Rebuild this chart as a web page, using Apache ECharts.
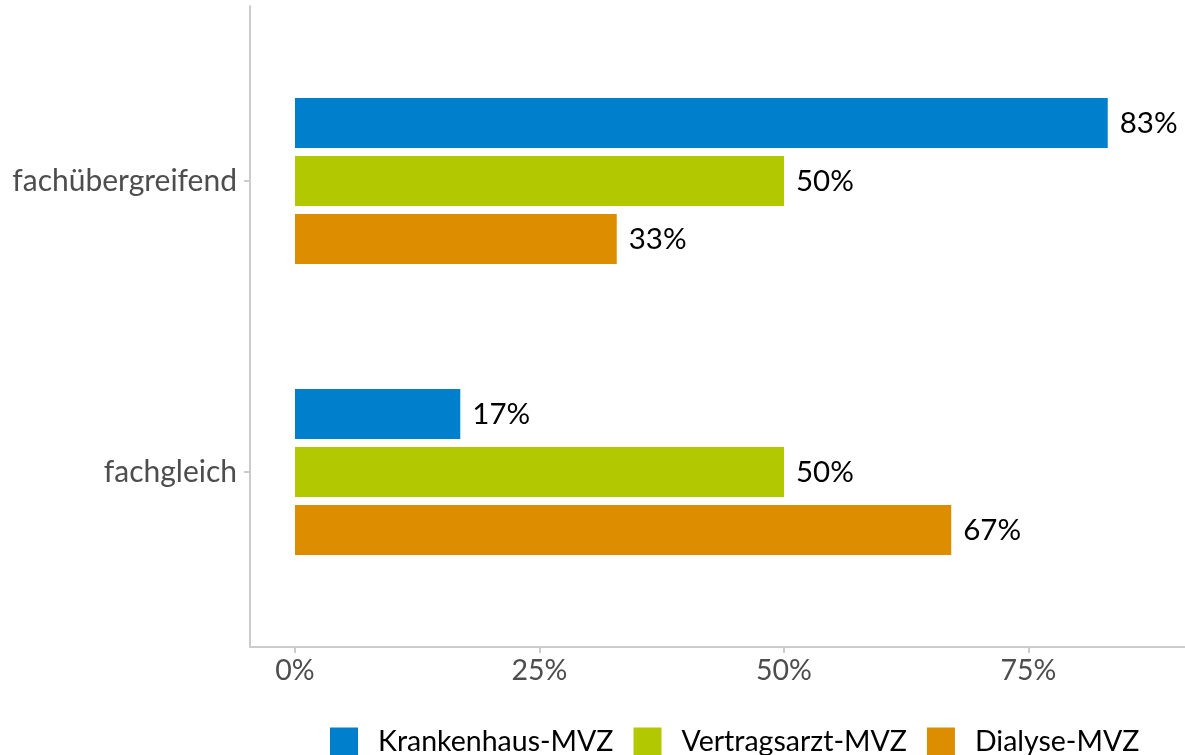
<!DOCTYPE html>
<html>
<head>
<meta charset="utf-8">
<script src="https://cdn.jsdelivr.net/npm/echarts@6/dist/echarts.min.js"></script>
<style>
html,body{margin:0;padding:0;background:#fff;}
#chart{width:1185px;height:755px;}
</style>
</head>
<body>
<div id="chart"></div>
<script>
const categories = ['fachübergreifend', 'fachgleich'];
const seriesNames = ['Krankenhaus-MVZ', 'Vertragsarzt-MVZ', 'Dialyse-MVZ'];
const krankenhaus = [0.831, 0.169];
const vertragsarzt = [0.500, 0.500];
const dialyse = [0.329, 0.671];
const tickValues = [0, 0.25, 0.5, 0.75];
const colors = ['#0080CC', '#B2C800', '#DD8E00'];

const FONT = 'Lato';
const xMin = -0.046, xMax = 0.910;
const seriesData = [krankenhaus, vertragsarzt, dialyse];

const chart = echarts.init(document.getElementById('chart'), null, {renderer: 'canvas'});
chart.setOption({
  animation: false,
  textStyle: {fontFamily: FONT},
  grid: [
    {left: 250, right: 0, top: 35.5, height: 582},
    {left: 250, right: 0, top: 6, height: 641}
  ],
  xAxis: [
    {gridIndex: 0, type: 'value', min: xMin, max: xMax, show: false},
    {gridIndex: 1, type: 'value', min: xMin, max: xMax,
     axisLine: {show: true, onZero: false, lineStyle: {color: '#cccccc', width: 2}},
     axisTick: {show: true, customValues: tickValues, length: 6, lineStyle: {color: '#cccccc', width: 2}},
     axisLabel: {customValues: tickValues, color: '#4d4d4d', fontSize: 28.5, fontFamily: FONT, margin: 9,
       formatter: v => Math.round(v * 100) + '%'},
     splitLine: {show: false}}
  ],
  yAxis: [
    {gridIndex: 0, type: 'category', inverse: true, data: categories,
     axisLine: {show: false, onZero: false},
     axisTick: {show: true, alignWithLabel: true, length: 6, lineStyle: {color: '#cccccc', width: 2}},
     axisLabel: {color: '#4d4d4d', fontSize: 30, fontFamily: FONT, margin: 13}},
    {gridIndex: 1, type: 'value', min: 0, max: 1,
     axisLine: {show: true, onZero: false, lineStyle: {color: '#cccccc', width: 2}},
     axisTick: {show: false}, axisLabel: {show: false}, splitLine: {show: false}}
  ],
  legend: {
    left: 330, top: 727, padding: 0,
    itemWidth: 28, itemHeight: 28, itemGap: 20,
    icon: 'rect',
    data: seriesNames,
    textStyle: {fontSize: 28.5, color: '#000', fontFamily: FONT, padding: [0, 0, 0, 15]}
  },
  series: seriesNames.map((name, i) => ({
    name: name, type: 'bar', xAxisIndex: 0, yAxisIndex: 0,
    data: seriesData[i],
    itemStyle: {color: colors[i]},
    barWidth: 50, barGap: '16%',
    label: {show: true, position: 'right', distance: 12, color: '#000', fontSize: 29.5, fontFamily: FONT,
      formatter: p => Math.round(p.value * 100) + '%'}
  }))
});
</script>
</body>
</html>
